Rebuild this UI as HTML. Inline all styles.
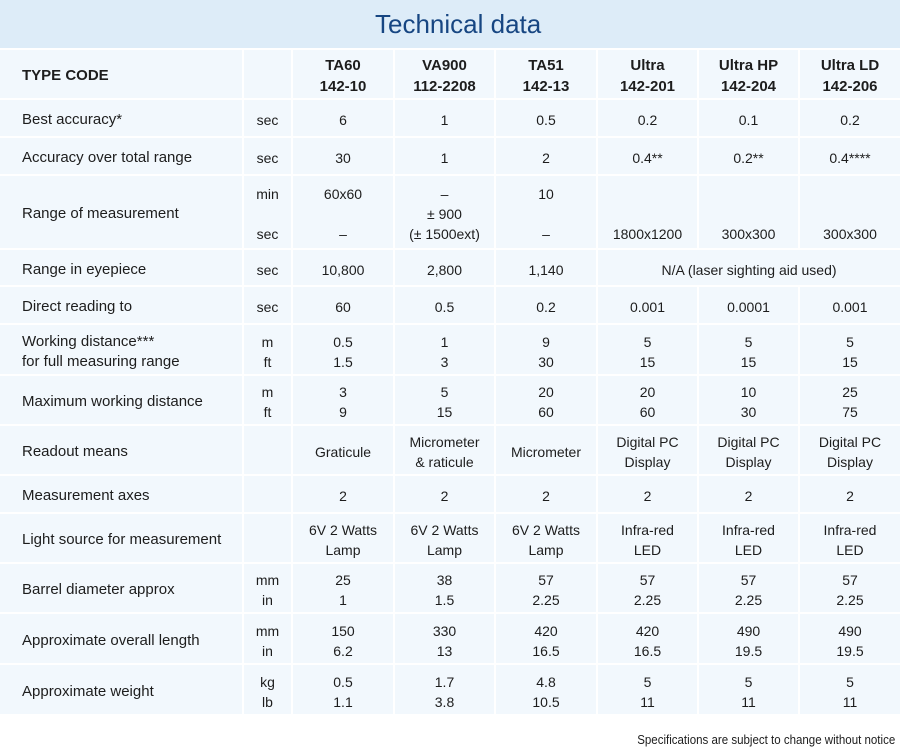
<!DOCTYPE html>
<html>
<head>
<meta charset="utf-8">
<style>
  html, body { margin:0; padding:0; background:#ffffff; }
  body { width:902px; height:755px; position:relative; overflow:hidden;
         font-family:"Liberation Sans", Arial, sans-serif; color:#1d1d1d; }
  #bar { position:absolute; left:0; top:0; width:900px; height:48px; background:#ddecf8; }
  #title { position:absolute; left:375px; top:11px; font-size:26px; line-height:26px;
           color:#174682; white-space:nowrap; }
  table { position:absolute; left:-2px; top:48px; width:904px; table-layout:fixed;
          border-collapse:separate; border-spacing:2px; background:transparent; }
  td, th { background:#f2f8fd; padding:4px 0 0 0; vertical-align:middle; text-align:center;
           font-size:14px; line-height:20px; font-weight:normal; white-space:nowrap; overflow:visible; }
  th { font-weight:bold; font-size:15px; line-height:21px; padding-top:3px; }
  td.l, th.l { text-align:left; padding-left:22px; font-size:15px; }
  td.u { font-size:14px; }
  #foot { position:absolute; right:7px; top:733px; font-size:13px; line-height:13px;
          white-space:nowrap; transform:scaleX(0.886); transform-origin:right center; color:#1d1d1d; }
</style>
</head>
<body>
<div id="bar"></div>
<div id="title">Technical data</div>

<table>
  <colgroup>
    <col style="width:242px"><col style="width:47px"><col style="width:100px"><col style="width:99px">
    <col style="width:100px"><col style="width:99px"><col style="width:99px"><col style="width:100px">
  </colgroup>
  <tr>
    <th class="l" style="height:45px">TYPE CODE</th><th></th>
    <th>TA60<br>142-10</th><th>VA900<br>112-2208</th><th>TA51<br>142-13</th>
    <th>Ultra<br>142-201</th><th>Ultra HP<br>142-204</th><th>Ultra LD<br>142-206</th>
  </tr>
  <tr>
    <td class="l" style="height:32px">Best accuracy*</td><td class="u">sec</td>
    <td>6</td><td>1</td><td>0.5</td><td>0.2</td><td>0.1</td><td>0.2</td>
  </tr>
  <tr>
    <td class="l" style="height:32px">Accuracy over total range</td><td class="u">sec</td>
    <td>30</td><td>1</td><td>2</td><td>0.4**</td><td>0.2**</td><td>0.4****</td>
  </tr>
  <tr>
    <td class="l" style="height:68px">Range of measurement</td><td class="u">min<br>&nbsp;<br>sec</td>
    <td>60x60<br>&nbsp;<br>–</td><td>–<br>± 900<br>(± 1500ext)</td><td>10<br>&nbsp;<br>–</td>
    <td>&nbsp;<br>&nbsp;<br>1800x1200</td><td>&nbsp;<br>&nbsp;<br>300x300</td><td>&nbsp;<br>&nbsp;<br>300x300</td>
  </tr>
  <tr>
    <td class="l" style="height:31px">Range in eyepiece</td><td class="u">sec</td>
    <td>10,800</td><td>2,800</td><td>1,140</td><td colspan="3">N/A (laser sighting aid used)</td>
  </tr>
  <tr>
    <td class="l" style="height:32px">Direct reading to</td><td class="u">sec</td>
    <td>60</td><td>0.5</td><td>0.2</td><td>0.001</td><td>0.0001</td><td>0.001</td>
  </tr>
  <tr>
    <td class="l" style="height:45px">Working distance***<br>for full measuring range</td><td class="u">m<br>ft</td>
    <td>0.5<br>1.5</td><td>1<br>3</td><td>9<br>30</td><td>5<br>15</td><td>5<br>15</td><td>5<br>15</td>
  </tr>
  <tr>
    <td class="l" style="height:44px">Maximum working distance</td><td class="u">m<br>ft</td>
    <td>3<br>9</td><td>5<br>15</td><td>20<br>60</td><td>20<br>60</td><td>10<br>30</td><td>25<br>75</td>
  </tr>
  <tr>
    <td class="l" style="height:44px">Readout means</td><td class="u"></td>
    <td>Graticule</td><td>Micrometer<br>&amp; raticule</td><td>Micrometer</td>
    <td>Digital PC<br>Display</td><td>Digital PC<br>Display</td><td>Digital PC<br>Display</td>
  </tr>
  <tr>
    <td class="l" style="height:32px">Measurement axes</td><td class="u"></td>
    <td>2</td><td>2</td><td>2</td><td>2</td><td>2</td><td>2</td>
  </tr>
  <tr>
    <td class="l" style="height:44px">Light source for measurement</td><td class="u"></td>
    <td>6V 2 Watts<br>Lamp</td><td>6V 2 Watts<br>Lamp</td><td>6V 2 Watts<br>Lamp</td>
    <td>Infra-red<br>LED</td><td>Infra-red<br>LED</td><td>Infra-red<br>LED</td>
  </tr>
  <tr>
    <td class="l" style="height:44px">Barrel diameter approx</td><td class="u">mm<br>in</td>
    <td>25<br>1</td><td>38<br>1.5</td><td>57<br>2.25</td><td>57<br>2.25</td><td>57<br>2.25</td><td>57<br>2.25</td>
  </tr>
  <tr>
    <td class="l" style="height:45px">Approximate overall length</td><td class="u">mm<br>in</td>
    <td>150<br>6.2</td><td>330<br>13</td><td>420<br>16.5</td><td>420<br>16.5</td><td>490<br>19.5</td><td>490<br>19.5</td>
  </tr>
  <tr>
    <td class="l" style="height:45px">Approximate weight</td><td class="u">kg<br>lb</td>
    <td>0.5<br>1.1</td><td>1.7<br>3.8</td><td>4.8<br>10.5</td><td>5<br>11</td><td>5<br>11</td><td>5<br>11</td>
  </tr>
</table>

<div id="foot">Specifications are subject to change without notice</div>
</body>
</html>
